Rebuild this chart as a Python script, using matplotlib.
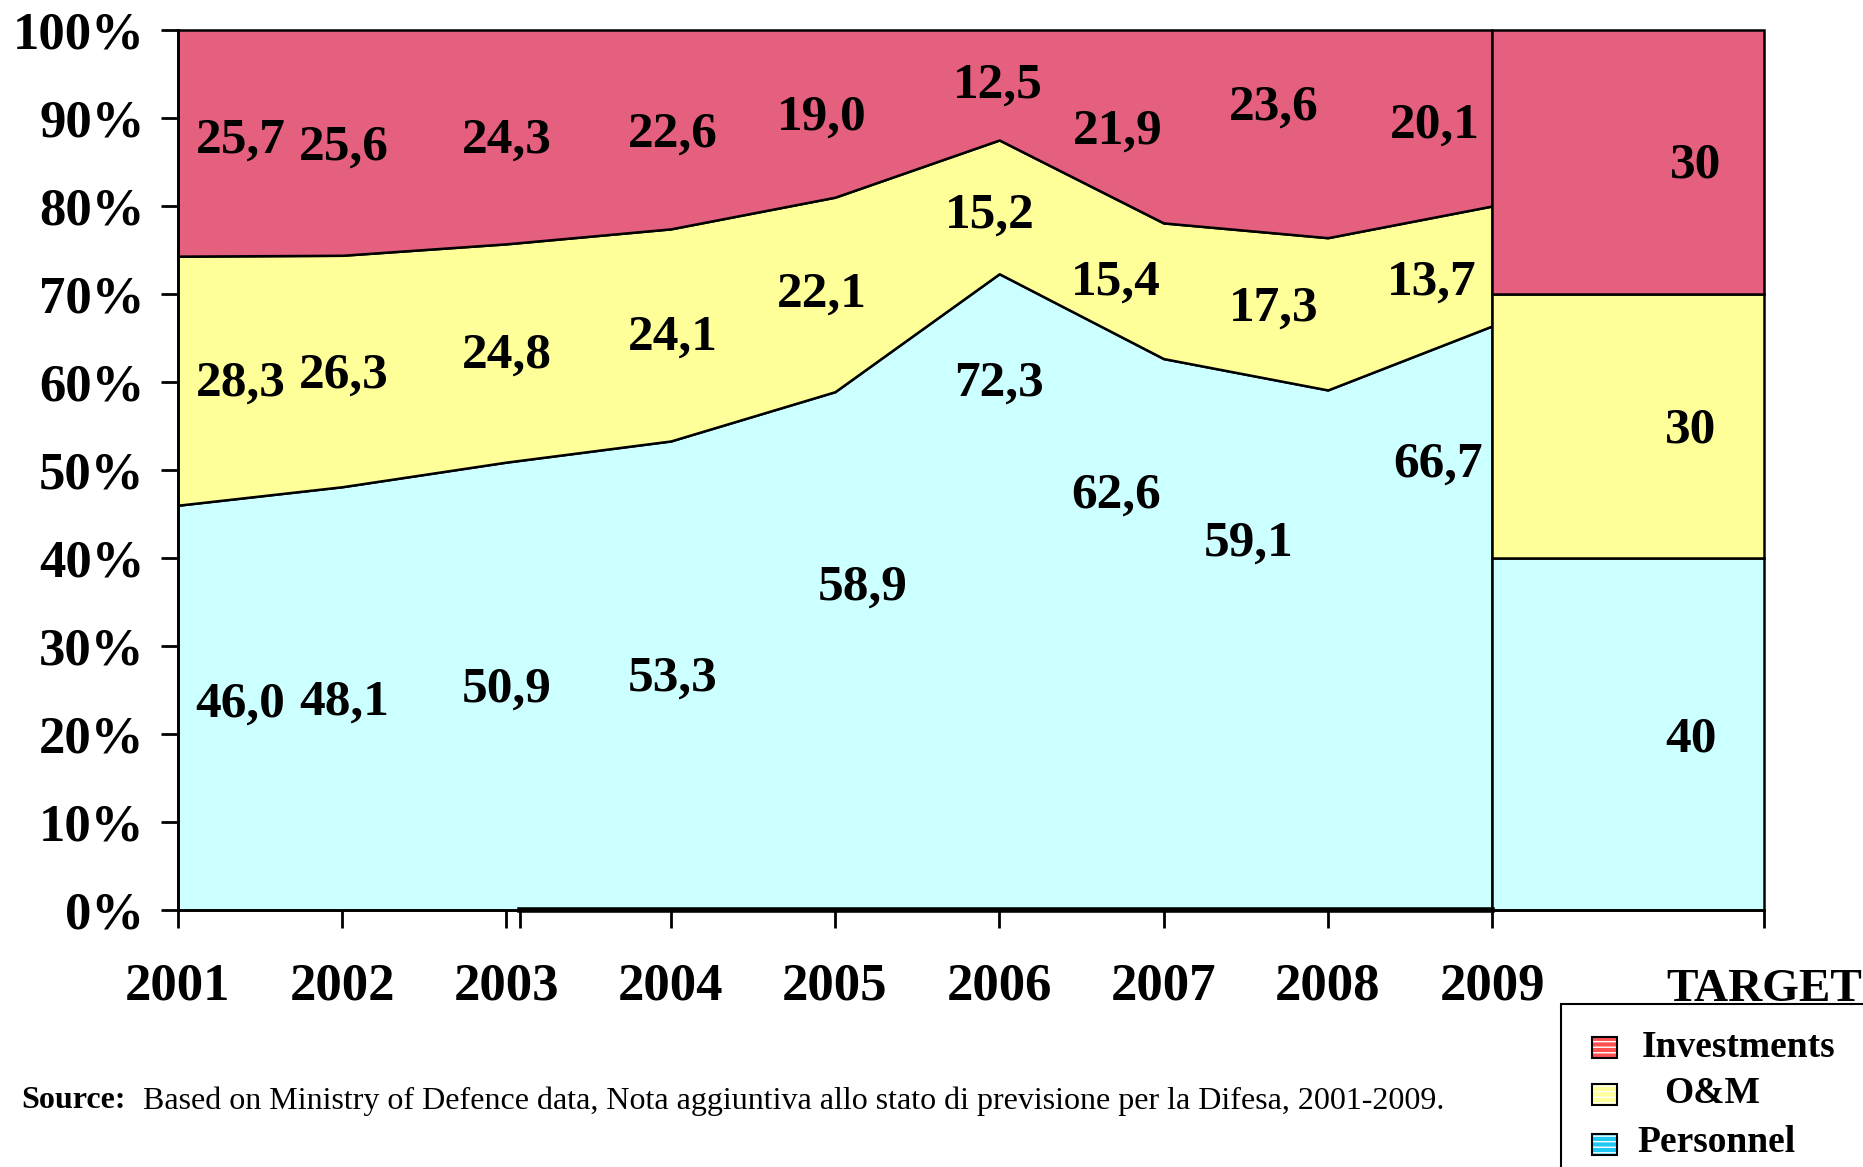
import matplotlib
matplotlib.use("Agg")
import matplotlib.pyplot as plt
from matplotlib.patches import Rectangle

plt.rcParams['font.family'] = ['Liberation Serif', 'DejaVu Serif']
plt.rcParams['font.weight'] = 'bold'

years = ["2001", "2002", "2003", "2004", "2005", "2006", "2007", "2008", "2009"]
series_names = ["Personnel", "O&M", "Investments"]
personnel = [46.0, 48.1, 50.9, 53.3, 58.9, 72.3, 62.6, 59.1, 66.7]
om = [28.3, 26.3, 24.8, 24.1, 22.1, 15.2, 15.4, 17.3, 13.7]
investments = [25.7, 25.6, 24.3, 22.6, 19.0, 12.5, 21.9, 23.6, 20.1]
target_values = [40, 30, 30]   # Personnel, O&M, Investments

# where the value labels sit (x in year index, y in %)
pers_lbl_pos = [(0.38, 23.3), (1.01, 23.6), (2.0, 25.1), (3.01, 26.3), (4.17, 36.6),
                (5.0, 59.8), (5.71, 47.1), (6.52, 41.6), (7.67, 50.6)]
om_lbl_pos = [(0.38, 59.8), (1.01, 60.7), (2.0, 63.0), (3.01, 65.0), (3.92, 69.9),
              (4.94, 78.9), (5.71, 71.3), (6.67, 68.3), (7.63, 71.3)]
inv_lbl_pos = [(0.38, 87.4), (1.01, 86.6), (2.0, 87.4), (3.01, 88.1), (3.92, 90.0),
               (4.99, 93.7), (5.72, 88.5), (6.67, 91.2), (7.65, 89.1)]
target_lbl_pos = [(9.21, 19.4), (9.21, 54.5), (9.24, 84.6)]

fill_colors = ["#CCFFFF", "#FFFF99", "#E4607E"]
legend_colors = ["#1EC8F2", "#FFFF99", "#FF5050"]

target_x = 8
target_w = 1.656

fig = plt.figure(figsize=(18.63, 11.67), dpi=100)
ax = fig.add_axes([0.0955, 0.2202, 0.8514, 0.7541])

# the chart is a 100% stack: shares are rescaled so each year tops out at 100
x = list(range(len(years)))
totals = [p + o + i for p, o, i in zip(personnel, om, investments)]
stack = [[v / t * 100 for v, t in zip(s, totals)] for s in (personnel, om, investments)]
polys = ax.stackplot(x, *stack, colors=fill_colors, edgecolor="black", linewidth=1.8)
for p in polys:
    p.set_clip_on(False)

bottom = 0
for val, c in zip(target_values, fill_colors):
    ax.bar(target_x, val, width=target_w, bottom=bottom, align="edge",
           color=c, edgecolor="black", linewidth=1.8, clip_on=False)
    bottom += val

def fmt(v):
    return f"{v:.1f}".replace(".", ",")

for vals, pos in [(personnel, pers_lbl_pos), (om, om_lbl_pos), (investments, inv_lbl_pos)]:
    for v, (px, py) in zip(vals, pos):
        ax.text(px, py, fmt(v), ha="center", va="center", fontsize=37, fontweight="bold")
for v, (px, py) in zip(target_values, target_lbl_pos):
    ax.text(px, py, str(v), ha="center", va="center", fontsize=37, fontweight="bold")

# slightly heavier baseline segment (overlay artifact of the original)
ax.plot([2.085, 8], [0, 0], color="black", lw=4, clip_on=False, zorder=5)

ax.set_xlim(0, target_x + target_w)
ax.set_ylim(0, 100)
ax.set_xticks(x + [target_x + target_w])
ax.set_xticklabels(years + [""])
ax.set_xticks([2.085], minor=True)
ax.set_yticks(range(0, 101, 10))
ax.set_yticklabels([f"{v}%" for v in range(0, 101, 10)])
ax.tick_params(axis="x", which="both", length=13, width=2, pad=25, labelsize=38)
ax.tick_params(axis="y", length=12, width=2, pad=12, labelsize=38)
for s in ["top", "right"]:
    ax.spines[s].set_visible(False)
for s in ["left", "bottom"]:
    ax.spines[s].set_linewidth(2)

# TARGET label sits under the right end of the target block, level with the years
fig.text(0.9469, 0.152, "TARGET", ha="center", va="center", fontsize=34, fontweight="bold")

# legend, drawn by hand (box runs off the figure edge as in the original)
fig.add_artist(Rectangle((0.838, -0.05), 0.3, 0.1897, transform=fig.transFigure,
                         fill=False, edgecolor="black", linewidth=1.5))
leg_rows = [("Investments", legend_colors[2], 0.0934, 0.8814, 0.1028),
            ("O&M", legend_colors[1], 0.0531, 0.8932, 0.0626),
            ("Personnel", legend_colors[0], 0.0103, 0.8787, 0.0206)]
for name, c, yb, tx, ty in leg_rows:
    fig.add_artist(Rectangle((0.8545, yb), 0.0134, 0.018, transform=fig.transFigure,
                             facecolor=c, edgecolor="white", hatch="---", linewidth=0))
    fig.add_artist(Rectangle((0.8545, yb), 0.0134, 0.018, transform=fig.transFigure,
                             fill=False, edgecolor="black", linewidth=1.5))
    fig.text(tx, ty, name, ha="left", va="center", fontsize=27, fontweight="bold")

fig.text(0.0113, 0.0566, "Source:", ha="left", va="center", fontsize=23, fontweight="bold")
fig.text(0.0765, 0.0566,
         "Based on Ministry of Defence data, Nota aggiuntiva allo stato di previsione per la Difesa, 2001-2009.",
         ha="left", va="center", fontsize=23, fontweight="normal")

fig.savefig("out.png", dpi=100)
